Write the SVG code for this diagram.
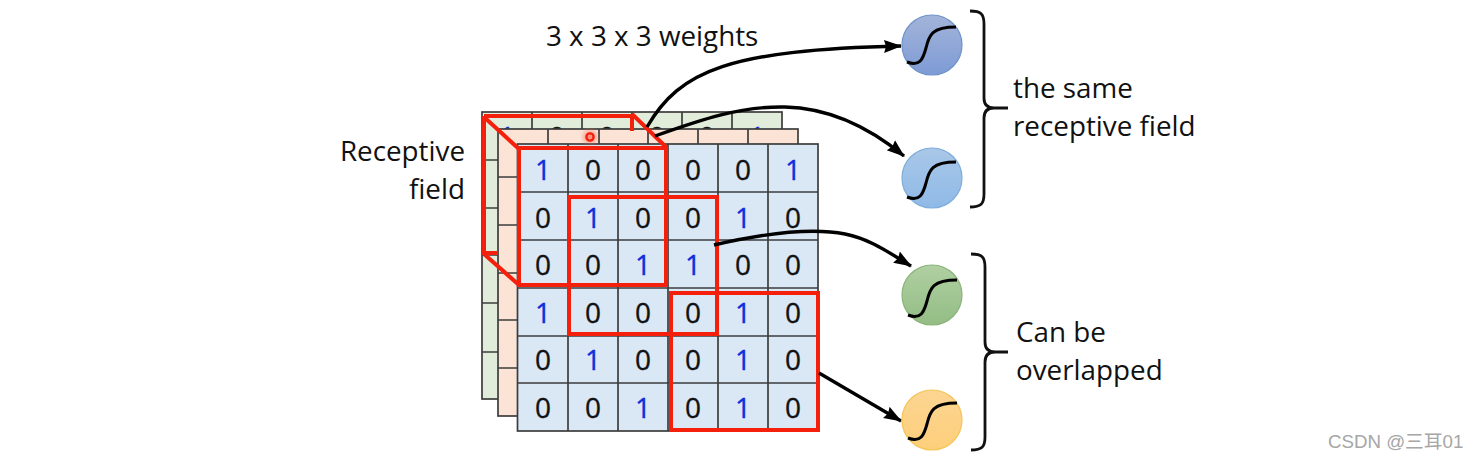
<svg xmlns="http://www.w3.org/2000/svg" width="1479" height="460" viewBox="0 0 1479 460">
<defs>
<marker id="ah" markerUnits="userSpaceOnUse" markerWidth="18" markerHeight="14" refX="17" refY="7" orient="auto"><path d="M0 0.5L18 7L0 13.5L2 7Z" fill="#000"/></marker>
<linearGradient id="gb" x1="0" y1="0" x2="0" y2="1"><stop offset="0" stop-color="#a3b4d9"/><stop offset="1" stop-color="#7e9bd6"/></linearGradient>
<linearGradient id="gl" x1="0" y1="0" x2="0" y2="1"><stop offset="0" stop-color="#a9c7e8"/><stop offset="1" stop-color="#8fbae6"/></linearGradient>
<linearGradient id="gg" x1="0" y1="0" x2="0" y2="1"><stop offset="0" stop-color="#b0cfa2"/><stop offset="1" stop-color="#93bd84"/></linearGradient>
<linearGradient id="gy" x1="0" y1="0" x2="0" y2="1"><stop offset="0" stop-color="#fcd592"/><stop offset="1" stop-color="#fdcf7b"/></linearGradient>
<radialGradient id="glow"><stop offset="0" stop-color="#f5604f" stop-opacity=".7"/><stop offset="1" stop-color="#f5604f" stop-opacity="0"/></radialGradient>
<path id="sig" d="M-25 17C-12 22 -9 14 -6 3C-3 -10 0 -18 24 -18" fill="none" stroke="#000" stroke-width="3"/>
</defs>
<style>
.c{stroke:#3c3c3c;stroke-width:1.7}
.l{fill:none;stroke:#3c3c3c;stroke-width:1.7}
.t{font:27.8px "Open Sans","Noto Sans",sans-serif;fill:#111}
.n{font:28px "Open Sans","Noto Sans",sans-serif;text-anchor:middle;fill:#111;stroke:#111;stroke-width:.35}
.b{fill:#0f2fdc;stroke:#0f2fdc}
.r{fill:none;stroke:#f5200c;stroke-width:4}
.a{fill:none;stroke:#000;stroke-width:3.4;marker-end:url(#ah)}
.br{fill:none;stroke:#111;stroke-width:2.8}
</style>
<rect width="1479" height="460" fill="#fff"/>
<g id="grid-back">
<rect x="482" y="112" width="300" height="287" class="c" fill="#e2ecda"/>
<path class="l" d="M532 112V129M582 112V129M632 112V129M682 112V129M732 112V129M482 160H499M482 208H499M482 255H499M482 303H499M482 352H499"/>
<text x="507" y="147" class="n b">1</text><text x="557" y="147" class="n">0</text><text x="607" y="147" class="n">0</text><text x="657" y="147" class="n">0</text><text x="707" y="147" class="n">0</text><text x="757" y="147" class="n b">1</text>
</g>
<g id="grid-middle">
<rect x="498" y="129" width="300" height="287" class="c" fill="#fbe4d5"/>
<path class="l" d="M548 129V145M599 129V145M648 129V145M698 129V145M748 129V145M498 177H518M498 225H518M498 273H518M498 320H518M498 368H518"/>
<text x="525" y="211" class="n">0</text><text x="525" y="259" class="n">0</text><text x="525" y="354" class="n">0</text><text x="525" y="402" class="n">0</text>
</g>
<g id="grid-front">
<rect x="517.500" y="144" width="300.500" height="287" class="c" fill="#dae7f4"/>
<path class="l" d="M568 144V431M618 144V431M668 144V431M718 144V431M768 144V431M518 192H818M518 240H818M518 288H818M518 336H818M518 383H818"/>
<text x="543" y="180" class="n b">1</text><text x="593" y="180" class="n">0</text><text x="643" y="180" class="n">0</text><text x="693" y="180" class="n">0</text><text x="743" y="180" class="n">0</text><text x="793" y="180" class="n b">1</text>
<text x="543" y="228" class="n">0</text><text x="593" y="228" class="n b">1</text><text x="643" y="228" class="n">0</text><text x="693" y="228" class="n">0</text><text x="743" y="228" class="n b">1</text><text x="793" y="228" class="n">0</text>
<text x="543" y="275" class="n">0</text><text x="593" y="275" class="n">0</text><text x="643" y="275" class="n b">1</text><text x="693" y="275" class="n b">1</text><text x="743" y="275" class="n">0</text><text x="793" y="275" class="n">0</text>
<text x="543" y="323" class="n b">1</text><text x="593" y="323" class="n">0</text><text x="643" y="323" class="n">0</text><text x="693" y="323" class="n">0</text><text x="743" y="323" class="n b">1</text><text x="793" y="323" class="n">0</text>
<text x="543" y="370" class="n">0</text><text x="593" y="370" class="n b">1</text><text x="643" y="370" class="n">0</text><text x="693" y="370" class="n">0</text><text x="743" y="370" class="n b">1</text><text x="793" y="370" class="n">0</text>
<text x="543" y="418" class="n">0</text><text x="593" y="418" class="n">0</text><text x="643" y="418" class="n b">1</text><text x="693" y="418" class="n">0</text><text x="743" y="418" class="n b">1</text><text x="793" y="418" class="n">0</text>
</g>
<g id="red-boxes">
<rect x="519" y="148" width="147" height="137" class="r"/>
<path class="r" d="M484 116H632V131M632 114L666 147M484 116V253H498M484 117L519 149M484 254L519 285"/>
<rect x="569" y="197" width="148" height="137" class="r"/>
<rect x="671" y="293" width="147" height="137" class="r"/>
<circle cx="590" cy="137" r="10" fill="url(#glow)"/>
<circle cx="590" cy="137" r="3.600" fill="none" stroke="#f5200c" stroke-width="2.400"/>
</g>
<g id="connectors">
<path class="a" d="M647 127C680 70 730 50 901 46"/>
<path class="a" d="M655 136C700 120 740 106 785 107C830 108 870 128 904 156"/>
<path class="a" d="M714 245C770 232 815 228 845 234C870 239 888 252 911 266"/>
<path class="a" d="M819 373L901 421"/>
</g>
<g id="neuron-1"><circle cx="932" cy="45" r="30" fill="url(#gb)" stroke="#6e93c9" stroke-width="1.200"/><use href="#sig" x="932" y="45"/></g>
<g id="neuron-2"><circle cx="932" cy="178" r="30" fill="url(#gl)" stroke="#7eacdc" stroke-width="1.200"/><use href="#sig" x="932" y="180"/></g>
<g id="neuron-3"><circle cx="932" cy="295" r="30" fill="url(#gg)" stroke="#8ab47a" stroke-width="1.200"/><use href="#sig" x="933" y="298"/></g>
<g id="neuron-4"><circle cx="932" cy="420" r="30" fill="url(#gy)" stroke="#f5c453" stroke-width="1.200"/><use href="#sig" x="933" y="421"/></g>
<g id="brace-1"><path class="br" d="M970 11C981 11 984 14 984 24V98Q984 108 994 108H1008M970 207C981 207 984 204 984 194V118Q984 108 994 108"/></g>
<g id="brace-2"><path class="br" d="M971 254C982 254 985 257 985 267V342Q985 352 995 352H1008M971 450C982 450 985 447 985 437V362Q985 352 995 352"/></g>
<g id="labels">
<text x="546" y="46" class="t">3 x 3 x 3 weights</text>
<text x="465" y="161" class="t" text-anchor="end">Receptive</text>
<text x="465" y="199" class="t" text-anchor="end">field</text>
<text x="1013" y="98" class="t">the same</text>
<text x="1013" y="136" class="t">receptive field</text>
<text x="1016" y="342" class="t">Can be</text>
<text x="1016" y="380" class="t">overlapped</text>
<text x="1328" y="448" font-family="Liberation Sans, Noto Sans CJK SC, sans-serif" font-size="18.700" fill="#a6a6a6">CSDN @三耳01</text>
</g>
</svg>
